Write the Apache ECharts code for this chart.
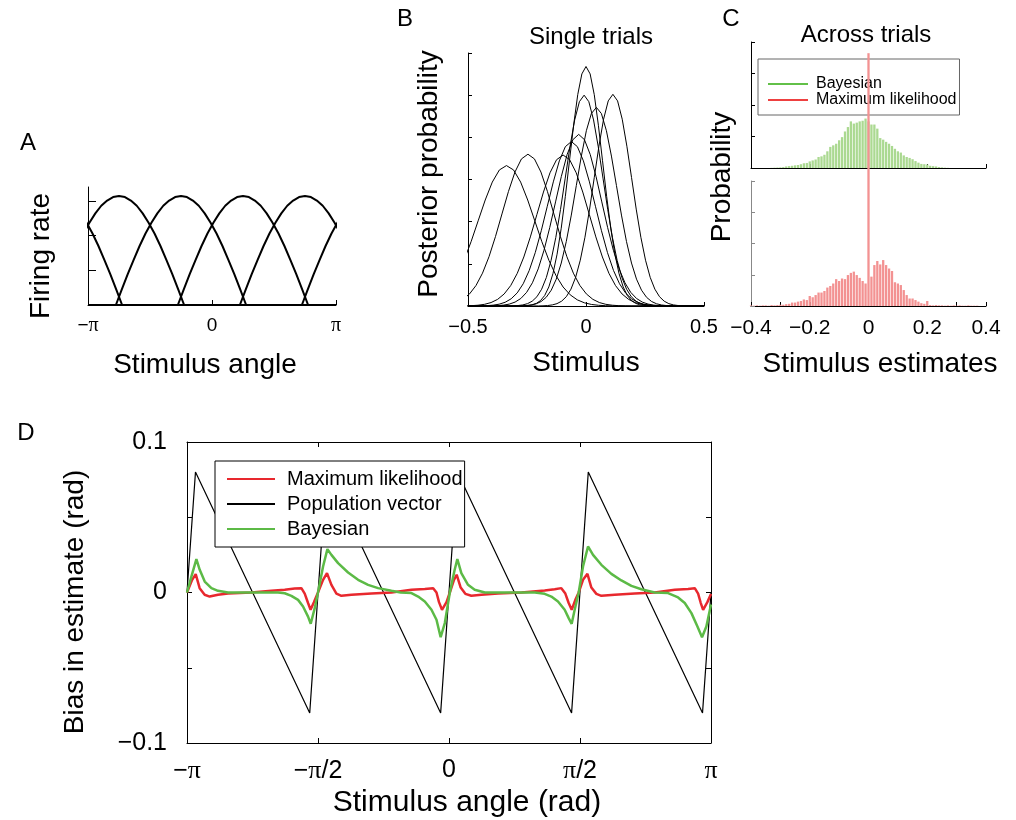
<!DOCTYPE html>
<html><head><meta charset="utf-8">
<script src="https://cdn.jsdelivr.net/npm/echarts@6/dist/echarts.min.js"></script>
<style>html,body{margin:0;padding:0;background:#fff}#c{width:1016px;height:820px}</style>
</head><body><div id="c"></div>
<script>
const PI = Math.PI;

// ---------- Panel A: tuning curves ----------
const tuningPreferred = [-2.356, -0.785, 0.785, 2.356];
const tuningOffsets = [0, 0.15, 0.3, 0.45, 0.6, 0.75, 0.9, 1.05, 1.2, 1.35, 1.5, 1.65];
const tuningRates   = [3.14, 3.11, 3.01, 2.86, 2.64, 2.37, 2.06, 1.70, 1.30, 0.89, 0.45, 0];
const tuningTicksY = [1, 2, 3];

// ---------- Panel B: single-trial posteriors ----------
const posteriorMeans = [-0.337, -0.246, -0.097, -0.062, -0.031, -0.008, 0.0, 0.044, 0.114];
const posteriorPeaks = [3.33, 3.60, 3.58, 3.90, 4.07, 5.00, 5.68, 4.71, 5.02];
const posteriorSDs   = [0.120, 0.110, 0.111, 0.102, 0.098, 0.080, 0.070, 0.085, 0.079];
const bellZ     = [0, 0.25, 0.5, 0.75, 1, 1.25, 1.5, 1.75, 2, 2.25, 2.5, 2.75, 3, 3.25, 3.5, 3.75, 4];
const bellShape = [1, 0.969, 0.8825, 0.7548, 0.6065, 0.4578, 0.3247, 0.2163, 0.1353, 0.0796, 0.0439, 0.0228, 0.0111, 0.0051, 0.0022, 0.0009, 0.0003];

// ---------- Panel C: histograms across trials ----------
const binStart = -0.40, binWidth = 0.01;
const bayesHist = [0,0,0,0,0,0,0,
  0.005,0.01,0.015,0.02,0.03,0.05,0.06,0.07,0.085,0.095,0.12,0.15,0.16,0.21,0.24,0.27,0.35,0.37,0.42,0.53,0.67,0.72,0.77,0.88,0.98,1.16,1.30,1.48,1.41,1.44,1.48,1.50,1.57,
  1.48,1.38,1.38,1.25,0.95,0.90,0.83,0.77,0.70,0.61,0.53,0.49,0.40,0.35,0.32,0.28,0.22,0.17,0.13,0.12,0.11,0.07,0.06,0.05,0.03,0.02,0.01,0.005,
  0,0,0,0,0,0,0,0,0,0,0,0,0];
const mlHist = [0.02,0.01,0.02,0.01,0.02,0.02,0.01,0.03,0.02,0.03,0.04,0.04,0.06,0.07,0.11,0.11,0.14,0.16,0.21,0.19,0.32,0.28,0.35,0.43,0.43,0.48,0.59,0.64,0.72,0.86,0.80,0.88,0.86,0.99,1.06,1.10,0.99,0.90,0.80,0.72,
  8.09,
  0.94,1.31,1.44,1.33,1.47,1.31,1.20,1.12,0.76,0.72,0.67,0.51,0.35,0.24,0.24,0.19,0.14,0.09,0.07,0.16,0.03,0.02,0.03,0.02,0.02,0.01,0.02,0.01,0.02,0.01,0.02,0.01,0.01,0.02,0.01,0.01,0.01,0,0,0];

// ---------- Panel D: bias of estimators ----------
const popVector = [[-3.1416,0],[-3.04,0.080],[-1.67,-0.080],[-1.47,0.080],[-0.10,-0.080],[0.10,0.080],[1.47,-0.080],[1.67,0.080],[3.04,-0.080],[3.1416,0]];
const mlBias = [[-3.1416,0],[-3.08,0.0084],[-3.037,0.0122],[-2.99,0.0029],[-2.93,-0.0015],[-2.87,-0.0027],[-2.77,-0.0015],[-2.65,-0.0007],[-2.37,0],[-2.13,0.0011],[-1.97,0.0018],[-1.85,0.0027],[-1.77,0.0029],[-1.73,-0.0007],[-1.69,-0.007],[-1.66,-0.0115],[-1.62,-0.0064],[-1.571,0],[-1.51,0.0084],[-1.463,0.0129],[-1.41,0.0051],[-1.35,-0.0007],[-1.29,-0.0022],[-1.17,-0.0015],[-0.93,-0.0007],[-0.69,0],[-0.45,0.0018],[-0.29,0.0024],[-0.19,0.0029],[-0.15,0],[-0.12,-0.0064],[-0.084,-0.0115],[-0.03,-0.0064],[0.01,0],[0.06,0.0084],[0.092,0.0118],[0.14,0.0033],[0.196,-0.0009],[0.268,-0.0022],[0.388,-0.0015],[0.588,-0.0007],[0.87,0],[1.147,0.0013],[1.267,0.0022],[1.347,0.0029],[1.395,-0.0007],[1.435,-0.007],[1.471,-0.0115],[1.515,-0.0049],[1.555,0],[1.607,0.0084],[1.66,0.0124],[1.707,0.0033],[1.767,-0.0009],[1.827,-0.0022],[1.987,-0.0015],[2.227,-0.0007],[2.467,0],[2.707,0.0018],[2.867,0.0024],[2.947,0.0029],[2.987,-0.0007],[3.019,-0.007],[3.047,-0.0115],[3.098,-0.0064],[3.1416,-0.001]];
const bayesBias = [[-3.1416,0],[-3.089,0.0106],[-3.029,0.0222],[-2.989,0.0151],[-2.929,0.0073],[-2.849,0.0029],[-2.77,0.0011],[-2.65,0],[-2.05,0],[-1.97,-0.0005],[-1.89,-0.0022],[-1.81,-0.0049],[-1.75,-0.0093],[-1.69,-0.016],[-1.658,-0.0208],[-1.61,-0.0104],[-1.571,0],[-1.51,0.0173],[-1.458,0.0288],[-1.41,0.025],[-1.33,0.0195],[-1.21,0.0133],[-1.09,0.0084],[-0.97,0.0051],[-0.85,0.0029],[-0.69,0.0011],[-0.58,0],[-0.45,-0.0004],[-0.37,-0.0027],[-0.29,-0.006],[-0.21,-0.0115],[-0.15,-0.0181],[-0.10,-0.0297],[-0.05,-0.0203],[0.01,0],[0.068,0.0151],[0.10,0.0222],[0.148,0.0129],[0.228,0.0051],[0.308,0.0018],[0.43,0],[1.03,0],[1.147,-0.0009],[1.227,-0.0027],[1.307,-0.006],[1.387,-0.0115],[1.435,-0.017],[1.471,-0.0208],[1.507,-0.0115],[1.555,0],[1.607,0.0173],[1.667,0.0306],[1.727,0.025],[1.827,0.0184],[1.947,0.0124],[2.067,0.008],[2.187,0.0044],[2.307,0.0022],[2.467,0],[2.627,-0.0004],[2.747,-0.0033],[2.827,-0.007],[2.907,-0.0137],[2.979,-0.0226],[3.034,-0.0297],[3.086,-0.0226],[3.1416,-0.008]];

// ---------- helpers ----------
const FONT = "'Liberation Sans', Arial, Helvetica, sans-serif";
const SERIF = "'Liberation Serif', 'Times New Roman', serif";
const K = '#000';
const RED = '#e8282e', GREEN = '#5cba46';

function near(a, b) { return Math.abs(a - b) < 1e-6; }
function minusNum(v, d) {
  if (near(v, 0)) return '0';
  return (v < 0 ? '\u2212' : '') + Math.abs(v).toFixed(d);
}
function axis(o) {
  const base = {
    type: 'value',
    axisLine: {show: true, onZero: false, lineStyle: {color: K, width: 1}},
    axisTick: {show: true, inside: true, length: 5, lineStyle: {color: K, width: 1}},
    splitLine: {show: false},
    axisLabel: {show: false}
  };
  return Object.assign(base, o);
}
function labelStyle(size, margin, formatter) {
  return {show: true, color: K, fontFamily: FONT, fontSize: size, margin: margin, formatter: formatter,
    rich: {p: {fontFamily: SERIF, fontSize: size + 1, color: K}}};
}
function piLabel(v) {
  if (near(v, -PI)) return '\u2212{p|\u03c0}';
  if (near(v, -PI / 2)) return '\u2212{p|\u03c0}/2';
  if (near(v, 0)) return '0';
  if (near(v, PI / 2)) return '{p|\u03c0}/2';
  if (near(v, PI)) return '{p|\u03c0}';
  return '';
}

function tuningCurve(c) {
  const half = tuningOffsets[tuningOffsets.length - 1];
  const pts = [];
  [c - 2 * PI, c, c + 2 * PI].forEach(cc => {
    if (cc + half < -PI || cc - half > PI) return;
    for (let i = tuningOffsets.length - 1; i > 0; i--) pts.push([cc - tuningOffsets[i], tuningRates[i]]);
    for (let i = 0; i < tuningOffsets.length; i++) pts.push([cc + tuningOffsets[i], tuningRates[i]]);
  });
  pts.sort((a, b) => a[0] - b[0]);
  if (pts[0][0] > -PI) pts.unshift([-PI, 0]);
  if (pts[pts.length - 1][0] < PI) pts.push([PI, 0]);
  return pts;
}
function posterior(i) {
  const m = posteriorMeans[i], s = posteriorSDs[i], h = posteriorPeaks[i];
  const pts = [];
  for (let k = bellZ.length - 1; k > 0; k--) pts.push([m - bellZ[k] * s, h * bellShape[k]]);
  for (let k = 0; k < bellZ.length; k++) pts.push([m + bellZ[k] * s, h * bellShape[k]]);
  if (pts[0][0] > -0.5) pts.unshift([-0.5, 0]);
  if (pts[pts.length - 1][0] < 0.5) pts.push([0.5, 0]);
  return pts;
}
function histData(arr) {
  return arr.map((v, i) => [+(binStart + i * binWidth).toFixed(3), v]);
}
function txt(text, x, y, size, rot) {
  return {type: 'text', x: x, y: y, rotation: rot || 0, silent: true,
    style: {text: text, fill: K, font: size + 'px ' + FONT,
      textAlign: 'center', textVerticalAlign: 'middle', align: 'center', verticalAlign: 'middle'}};
}

// ---------- option ----------
const series = [];
tuningPreferred.forEach((c, i) => series.push({
  name: 'tuning' + i, type: 'line', xAxisIndex: 0, yAxisIndex: 0, data: tuningCurve(c),
  symbol: 'none', lineStyle: {color: K, width: 2}, silent: true
}));
posteriorMeans.forEach((m, i) => series.push({
  name: 'posterior' + i, type: 'line', xAxisIndex: 1, yAxisIndex: 1, data: posterior(i),
  symbol: 'none', lineStyle: {color: K, width: 1}, silent: true
}));
series.push({name: 'Bayesian ', type: 'line', xAxisIndex: 2, yAxisIndex: 2, data: [], symbol: 'none',
  lineStyle: {color: '#62c048', width: 1.5}, itemStyle: {color: '#62c048'}});
series.push({name: 'Maximum likelihood ', type: 'line', xAxisIndex: 2, yAxisIndex: 2, data: [], symbol: 'none',
  lineStyle: {color: '#ee4040', width: 1.5}, itemStyle: {color: '#ee4040'}});
series.push({name: 'Bayesian histogram', type: 'bar', xAxisIndex: 2, yAxisIndex: 2, data: histData(bayesHist),
  barWidth: 2.3, itemStyle: {color: '#abd991'}, silent: true});
series.push({name: 'ML histogram', type: 'bar', xAxisIndex: 3, yAxisIndex: 3, data: histData(mlHist),
  barWidth: 2.3, clip: false, z: 10, itemStyle: {color: '#f39292'}, silent: true});
series.push({name: 'Population vector', type: 'line', xAxisIndex: 4, yAxisIndex: 4, data: popVector,
  symbol: 'none', lineStyle: {color: K, width: 1.2}, itemStyle: {color: K}, silent: true});
series.push({name: 'Maximum likelihood', type: 'line', xAxisIndex: 4, yAxisIndex: 4, data: mlBias,
  symbol: 'none', lineStyle: {color: RED, width: 2.5}, itemStyle: {color: RED}, silent: true});
series.push({name: 'Bayesian', type: 'line', xAxisIndex: 4, yAxisIndex: 4, data: bayesBias,
  symbol: 'none', lineStyle: {color: GREEN, width: 2.5}, itemStyle: {color: GREEN}, silent: true});

const option = {
  animation: false,
  backgroundColor: '#fff',
  grid: [
    {left: 88, top: 187, width: 248, height: 118},
    {left: 468, top: 53, width: 236, height: 253},
    {left: 751, top: 42, width: 235, height: 126},
    {left: 751, top: 181, width: 235, height: 125},
    {left: 187, top: 442, width: 524, height: 301}
  ],
  xAxis: [
    axis({gridIndex: 0, min: -PI, max: PI, interval: PI, axisLabel: labelStyle(19, 11, piLabel)}),
    axis({gridIndex: 1, min: -0.5, max: 0.5, interval: 0.5, axisTick: {show: true, inside: true, length: 4, lineStyle: {color: K}},
      axisLabel: labelStyle(20, 11, v => minusNum(v, 1))}),
    axis({gridIndex: 2, min: -0.4, max: 0.4, interval: 0.2, axisTick: {show: true, inside: true, length: 4, lineStyle: {color: K}}}),
    axis({gridIndex: 3, min: -0.4, max: 0.4, interval: 0.1, axisTick: {show: true, inside: true, length: 4, lineStyle: {color: K}},
      axisLabel: labelStyle(21, 12, v => { const k = Math.round(v * 10); if (k % 2 !== 0) return ''; return minusNum(k / 10, 1); })}),
    axis({gridIndex: 4, min: -PI, max: PI, interval: PI / 2, axisLabel: labelStyle(25, 15, piLabel)}),
    axis({gridIndex: 4, position: 'top', min: -PI, max: PI, interval: PI / 2})
  ],
  yAxis: [
    axis({gridIndex: 0, min: 0, max: 3.4, interval: 1, axisTick: {show: true, inside: true, length: 8, customValues: tuningTicksY, lineStyle: {color: K}}}),
    axis({gridIndex: 1, min: 0, max: 6, interval: 1, axisTick: {show: true, inside: true, length: 4, lineStyle: {color: K}}}),
    axis({gridIndex: 2, min: 0, max: 4, interval: 1, axisTick: {show: true, inside: true, length: 4, lineStyle: {color: K}}}),
    axis({gridIndex: 3, min: 0, max: 4, interval: 1, axisLine: {show: true, onZero: false, lineStyle: {color: '#888', width: 1}},
      axisTick: {show: true, inside: true, length: 4, lineStyle: {color: '#888'}}}),
    axis({gridIndex: 4, min: -0.1, max: 0.1, interval: 0.05,
      axisLabel: labelStyle(25, 20, v => { const k = Math.round(v * 100); if (k === 10) return '0.1'; if (k === -10) return '\u22120.1'; if (k === 0) return '0'; return ''; })}),
    axis({gridIndex: 4, position: 'right', min: -0.1, max: 0.1, interval: 0.05})
  ],
  legend: [
    {orient: 'vertical', left: 758, top: 59, data: ['Bayesian ', 'Maximum likelihood '],
      formatter: n => n.trim(),
      borderColor: '#666', borderWidth: 1, borderRadius: 0, padding: [17, 3, 7, 9], itemGap: 0,
      itemWidth: 40, itemHeight: 10, selectedMode: false, itemStyle: {opacity: 0},
      textStyle: {fontFamily: FONT, fontSize: 16, color: K, lineHeight: 13, padding: [0, 0, 0, 3]}},
    {orient: 'vertical', left: 215, top: 461, data: ['Maximum likelihood', 'Population vector', 'Bayesian'],
      backgroundColor: '#fff', borderColor: K, borderWidth: 1, borderRadius: 0, padding: [8, 2, 8, 11], itemGap: 5,
      itemWidth: 48, itemHeight: 14, selectedMode: false, z: 20, itemStyle: {opacity: 0},
      textStyle: {fontFamily: FONT, fontSize: 20, color: K, lineHeight: 20, padding: [0, 0, 0, 7]}}
  ],
  graphic: [
    txt('A', 28, 143, 24), txt('B', 405, 19, 24), txt('C', 731, 19, 24), txt('D', 26, 433, 24),
    txt('Single trials', 591, 37, 24), txt('Across trials', 866, 35, 24),
    txt('Stimulus angle', 205, 365, 28), txt('Stimulus', 586, 363, 28),
    txt('Stimulus estimates', 880, 364, 28), txt('Stimulus angle (rad)', 467, 803, 30),
    txt('Firing rate', 41, 256, 28, PI / 2), txt('Posterior probability', 429, 174, 28, PI / 2),
    txt('Probability', 722, 177, 28, PI / 2), txt('Bias in estimate (rad)', 75, 602, 28, PI / 2)
  ],
  series: series
};

const chart = echarts.init(document.getElementById('c'), null, {renderer: 'canvas'});
chart.setOption(option);
</script>
</body></html>
